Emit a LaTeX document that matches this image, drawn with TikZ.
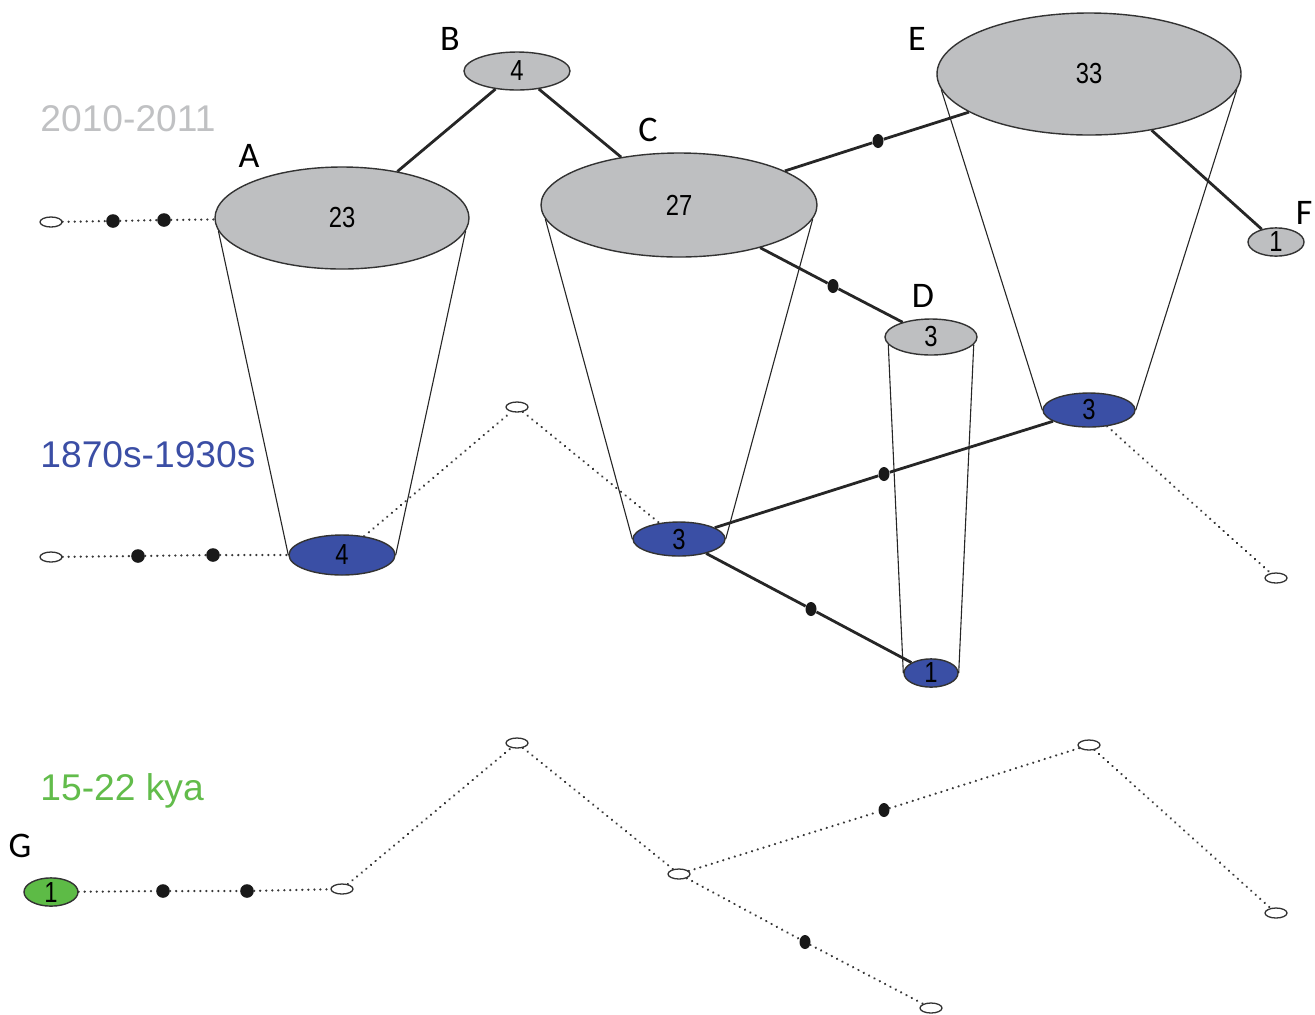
\documentclass[tikz,border=0pt]{standalone}
\usepackage{fontspec}
\setmainfont{Liberation Sans}
\newfontfamily\letterfont{Carlito}
\newfontfamily\numfont[FakeStretch=0.82]{Liberation Sans}
\usetikzlibrary{shapes.geometric}
\definecolor{popgray}{RGB}{190,191,193}
\definecolor{popblue}{RGB}{58,79,165}
\definecolor{popgreen}{RGB}{93,187,70}
\definecolor{yeargray}{RGB}{192,193,195}
\definecolor{yearblue}{RGB}{59,78,165}
\definecolor{yeargreen}{RGB}{98,188,75}

\tikzset{
  hap/.style={ellipse, draw=black!80, line width=0.7pt, inner sep=0pt,
    font=\numfont\fontsize{14.5}{14.5}\selectfont, text=black},
  openhap/.style={ellipse, draw=black!80, line width=0.65pt, fill=white,
    inner sep=0pt, minimum width=11pt, minimum height=5pt},
  bdot/.style={circle, fill=black!90, inner sep=0pt, minimum size=6.8pt},
  sdot/.style={ellipse, fill=black!90, inner sep=0pt, minimum width=5.5pt, minimum height=7pt},
  link/.style={line width=1.4pt, black!85},
  dotlink/.style={line width=1.25pt, black!78, line cap=round, dash pattern=on 0.01pt off 3pt},
  cone/.style={line width=0.55pt, black!85},
  letter/.style={font=\letterfont\fontsize{18}{18}\selectfont},
  yearlabel/.style={anchor=base west, inner sep=0pt, font=\fontsize{18.6}{18.6}\selectfont}
}

\begin{document}
\begin{tikzpicture}[x=0.5pt, y=-0.5pt]
\useasboundingbox (0,0) rectangle (1315,1014);

% period labels
\node[yearlabel, text=yeargray]  (y1) at (40,131) {2010-2011};
\node[yearlabel, text=yearblue]  (y2) at (40,467) {1870s-1930s};
\node[yearlabel, text=yeargreen] (y3) at (40,800) {15-22 kya};

% present-day haplotypes
\node[hap, fill=popgray, minimum width=127pt, minimum height=51pt] (A) at (342,218) {23};
\node[hap, fill=popgray, minimum width=53pt, minimum height=19pt] (B) at (517,71) {4};
\node[hap, fill=popgray, minimum width=138pt, minimum height=52pt] (C) at (679,205) {27};
\node[hap, fill=popgray, minimum width=46pt, minimum height=18pt] (D) at (931,337) {3};
\node[hap, fill=popgray, minimum width=152pt, minimum height=61pt] (E) at (1089,74) {33};
\node[hap, fill=popgray, minimum width=28pt, minimum height=11pt] (F) at (1276,242) {1};

% historical haplotypes
\node[hap, fill=popblue, minimum width=53pt, minimum height=20pt] (a) at (342,555) {4};
\node[hap, fill=popblue, minimum width=46pt, minimum height=17pt] (c) at (679,539) {3};
\node[hap, fill=popblue, minimum width=46pt, minimum height=17pt] (e) at (1089,410) {3};
\node[hap, fill=popblue, minimum width=27pt, minimum height=11pt] (d) at (931,673) {1};

% ancient haplotype
\node[hap, fill=popgreen, minimum width=27pt, minimum height=11pt] (g) at (51,892) {1};

% haplotype letters
\node[letter] (lA) at (249,156) {A};
\node[letter] (lB) at (450,39) {B};
\node[letter] (lC) at (648,130) {C};
\node[letter] (lD) at (923,296) {D};
\node[letter] (lE) at (917,39) {E};
\node[letter] (lF) at (1304,213) {F};
\node[letter] (lG) at (20,846) {G};

% cones linking the present to the historical samples
\draw[cone] (A.186) -- (a.west);  \draw[cone] (A.354) -- (a.east);
\draw[cone] (C.186) -- (c.west);  \draw[cone] (C.354) -- (c.east);
\draw[cone] (D.190) -- (d.west);  \draw[cone] (D.350) -- (d.east);
\draw[cone] (E.186) -- (e.west);  \draw[cone] (E.354) -- (e.east);

% present-day network
\node[sdot] (m1) at (878,141) {};
\node[sdot] (m2) at (833,286) {};
\draw[link] (A) -- (B);
\draw[link] (B) -- (C);
\draw[link] (C) -- (m1) -- (E);
\draw[link] (C) -- (m2) -- (D);
\draw[link] (E) -- (F);

% historical network
\node[sdot] (m3) at (884,474) {};
\node[sdot] (m4) at (811,609) {};
\draw[link] (c) -- (m3) -- (e);
\draw[link] (c) -- (m4) -- (d);

% missing haplotypes, present-day row
\node[openhap] (o1) at (51,222) {};
\node[bdot] (t1) at (113,221) {};
\node[bdot] (t2) at (164,220) {};
\draw[dotlink] (o1) -- (t1) -- (t2) -- (A);

% missing haplotypes, historical row
\node[openhap] (o2) at (51,557) {};
\node[bdot] (h1) at (138,556) {};
\node[bdot] (h2) at (213,555) {};
\node[openhap] (o3) at (517,407) {};
\node[openhap] (o4) at (1276,578) {};
\draw[dotlink] (o2) -- (h1) -- (h2) -- (a);
\draw[dotlink] (a) -- (o3);
\draw[dotlink] (o3) -- (c);
\draw[dotlink] (e) -- (o4);

% ancient network
\node[bdot] (k1) at (163,891) {};
\node[bdot] (k2) at (247,891) {};
\node[openhap] (p1) at (342,889) {};
\node[openhap] (p2) at (517,743) {};
\node[openhap] (p3) at (679,874) {};
\node[openhap] (p4) at (1089,745) {};
\node[openhap] (p5) at (931,1008) {};
\node[openhap] (p6) at (1276,913) {};
\node[sdot] (k3) at (884,810) {};
\node[sdot] (k4) at (805,942) {};
\draw[dotlink] (g) -- (k1) -- (k2) -- (p1);
\draw[dotlink] (p1) -- (p2);
\draw[dotlink] (p2) -- (p3);
\draw[dotlink] (p3) -- (k3) -- (p4);
\draw[dotlink] (p3) -- (k4) -- (p5);
\draw[dotlink] (p4) -- (p6);
\end{tikzpicture}
\end{document}
